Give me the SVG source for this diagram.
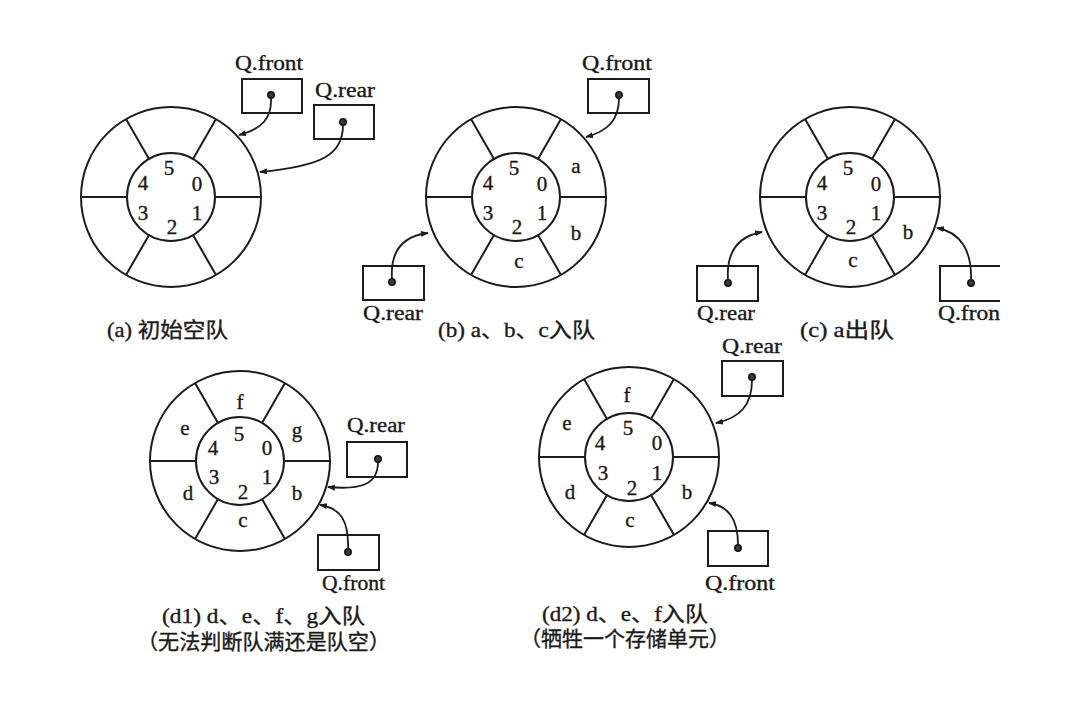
<svg xmlns="http://www.w3.org/2000/svg" xmlns:xlink="http://www.w3.org/1999/xlink" width="1092" height="718" viewBox="0 0 1092 718">
<style>
.ln{fill:none;stroke:#1c1c1c;stroke-width:2}
.box{fill:none;stroke:#1c1c1c;stroke-width:2}
.dot{fill:#3a3a3a;stroke:#111;stroke-width:1.5}
.arr{fill:none;stroke:#1c1c1c;stroke-width:1.8;marker-end:url(#ah)}
text{font-family:"Liberation Serif","Noto Sans CJK SC",serif;fill:#1a1a1a;stroke:#1a1a1a;stroke-width:0.35}
.n{font-size:21px;text-anchor:middle}
.lb{font-size:20px}
.cap{font-size:21px}
</style>
<defs>
<marker id="ah" markerUnits="userSpaceOnUse" markerWidth="8" markerHeight="6" refX="7" refY="3" orient="auto">
<path d="M0,0 L8,3 L0,6 z" fill="#1c1c1c"/>
</marker>
<g id="ring">
<circle class="ln" cx="0" cy="0" r="90"/>
<circle class="ln" cx="0" cy="0" r="44"/>
<path class="ln" d="M44,0H90M-44,0H-90M22,38.1L45,77.9M-22,38.1L-45,77.9M22,-38.1L45,-77.9M-22,-38.1L-45,-77.9"/>
</g>
</defs>
<rect width="1092" height="718" fill="#fff"/>

<g id="queue-a" transform="translate(171,197)">
<use xlink:href="#ring" href="#ring"/>
<text class="n" x="-2" y="-22">5</text><text class="n" x="26" y="-6">0</text><text class="n" x="-28" y="-7">4</text>
<text class="n" x="-28" y="23">3</text><text class="n" x="26" y="23">1</text><text class="n" x="1" y="37">2</text>
</g>
<g id="a-front">
<text class="lb" x="235" y="70" textLength="68" lengthAdjust="spacingAndGlyphs">Q.front</text>
<rect class="box" x="242" y="79" width="60" height="34"/><circle class="dot" cx="271" cy="95" r="3.2"/>
</g>
<g id="a-rear">
<text class="lb" x="315" y="97" textLength="60" lengthAdjust="spacingAndGlyphs">Q.rear</text>
<rect class="box" x="314" y="105" width="60" height="34"/><circle class="dot" cx="343" cy="122" r="3.2"/>
</g>
<text id="cap-a" class="cap" x="107" y="337" textLength="121" lengthAdjust="spacingAndGlyphs">(a) 初始空队</text>

<g id="queue-b" transform="translate(516,197)">
<use xlink:href="#ring" href="#ring"/>
<text class="n" x="-2" y="-22">5</text><text class="n" x="26" y="-6">0</text><text class="n" x="-28" y="-7">4</text>
<text class="n" x="-28" y="23">3</text><text class="n" x="26" y="23">1</text><text class="n" x="1" y="37">2</text>
<text class="n" x="60" y="-24">a</text><text class="n" x="60" y="43">b</text><text class="n" x="3" y="71">c</text>
</g>
<g id="b-front">
<text class="lb" x="582" y="70" textLength="70" lengthAdjust="spacingAndGlyphs">Q.front</text>
<rect class="box" x="588" y="79" width="61" height="34"/><circle class="dot" cx="619" cy="95" r="3.2"/>
</g>
<g id="b-rear">
<rect class="box" x="363" y="266" width="61" height="34"/><circle class="dot" cx="392" cy="282" r="3.2"/>
<text class="lb" x="363" y="320" textLength="60" lengthAdjust="spacingAndGlyphs">Q.rear</text>
</g>
<text id="cap-b" class="cap" x="438" y="337" textLength="157" lengthAdjust="spacingAndGlyphs">(b) a、b、c入队</text>

<g id="queue-c" transform="translate(850,197)">
<use xlink:href="#ring" href="#ring"/>
<text class="n" x="-2" y="-22">5</text><text class="n" x="26" y="-6">0</text><text class="n" x="-28" y="-7">4</text>
<text class="n" x="-28" y="23">3</text><text class="n" x="26" y="23">1</text><text class="n" x="1" y="37">2</text>
<text class="n" x="58" y="42">b</text><text class="n" x="3" y="70">c</text>
</g>
<g id="c-rear">
<rect class="box" x="697" y="266" width="61" height="35"/><circle class="dot" cx="728" cy="283" r="3.2"/>
<text class="lb" x="697" y="320" textLength="58" lengthAdjust="spacingAndGlyphs">Q.rear</text>
</g>
<g id="c-front">
<path class="box" d="M1000,266H940V301H1000"/><circle class="dot" cx="971" cy="283" r="3.2"/>
<text class="lb" x="938" y="320" textLength="62" lengthAdjust="spacingAndGlyphs">Q.fron</text>
</g>
<text id="cap-c" class="cap" x="800" y="337" textLength="94" lengthAdjust="spacingAndGlyphs">(c) a出队</text>

<g id="queue-d1" transform="translate(240,461)">
<use xlink:href="#ring" href="#ring"/>
<text class="n" x="-1" y="-20">5</text><text class="n" x="27" y="-6">0</text><text class="n" x="-27" y="-6">4</text>
<text class="n" x="-26" y="23">3</text><text class="n" x="27" y="23">1</text><text class="n" x="3" y="38">2</text>
<text class="n" x="0" y="-52">f</text><text class="n" x="57" y="-24">g</text><text class="n" x="-55" y="-26">e</text>
<text class="n" x="-52" y="39">d</text><text class="n" x="57" y="39">b</text><text class="n" x="3" y="66">c</text>
</g>
<g id="d1-rear">
<text class="lb" x="347" y="432" textLength="58" lengthAdjust="spacingAndGlyphs">Q.rear</text>
<rect class="box" x="347" y="442" width="60" height="35"/><circle class="dot" cx="378" cy="459" r="3.2"/>
</g>
<g id="d1-front">
<rect class="box" x="318" y="535" width="61" height="35"/><circle class="dot" cx="348" cy="552" r="3.2"/>
<text class="lb" x="322" y="590" textLength="63" lengthAdjust="spacingAndGlyphs">Q.front</text>
</g>
<g id="cap-d1">
<text class="cap" x="162" y="623" textLength="203" lengthAdjust="spacingAndGlyphs">(d1) d、e、f、g入队</text>
<text class="cap" x="137" y="649" textLength="253" lengthAdjust="spacingAndGlyphs">（无法判断队满还是队空）</text>
</g>

<g id="queue-d2" transform="translate(629,457)">
<use xlink:href="#ring" href="#ring"/>
<text class="n" x="-1" y="-22">5</text><text class="n" x="28" y="-7">0</text><text class="n" x="-29" y="-7">4</text>
<text class="n" x="-26" y="23">3</text><text class="n" x="28" y="23">1</text><text class="n" x="3" y="38">2</text>
<text class="n" x="-2" y="-55">f</text><text class="n" x="-62" y="-27">e</text>
<text class="n" x="-59" y="42">d</text><text class="n" x="58" y="42">b</text><text class="n" x="1" y="70">c</text>
</g>
<g id="d2-rear">
<text class="lb" x="722" y="353" textLength="60" lengthAdjust="spacingAndGlyphs">Q.rear</text>
<rect class="box" x="722" y="361" width="61" height="35"/><circle class="dot" cx="752" cy="377" r="3.2"/>
</g>
<g id="d2-front">
<rect class="box" x="708" y="531" width="60" height="35"/><circle class="dot" cx="738" cy="548" r="3.2"/>
<text class="lb" x="705" y="590" textLength="70" lengthAdjust="spacingAndGlyphs">Q.front</text>
</g>
<g id="cap-d2">
<text class="cap" x="542" y="621" textLength="166" lengthAdjust="spacingAndGlyphs">(d2) d、e、f入队</text>
<text class="cap" x="520" y="646" textLength="210" lengthAdjust="spacingAndGlyphs">（牺牲一个存储单元）</text>
</g>

<g id="connectors">
<path class="arr" d="M271,98 C272,118 262,129 239,135"/>
<path class="arr" d="M343,125 C343,155 322,166 260,172"/>
<path class="arr" d="M619,98 C619,120 608,131 586,137"/>
<path class="arr" d="M392,279 C390,250 404,236 428,233"/>
<path class="arr" d="M728,280 C726,250 740,236 762,232"/>
<path class="arr" d="M971,280 C972,250 960,232 937,228"/>
<path class="arr" d="M378,462 C378,485 360,490 328,487"/>
<path class="arr" d="M348,549 C349,520 340,508 320,505"/>
<path class="arr" d="M752,380 C752,405 740,418 716,423"/>
<path class="arr" d="M738,545 C738,518 728,506 709,503"/>
</g>
</svg>
